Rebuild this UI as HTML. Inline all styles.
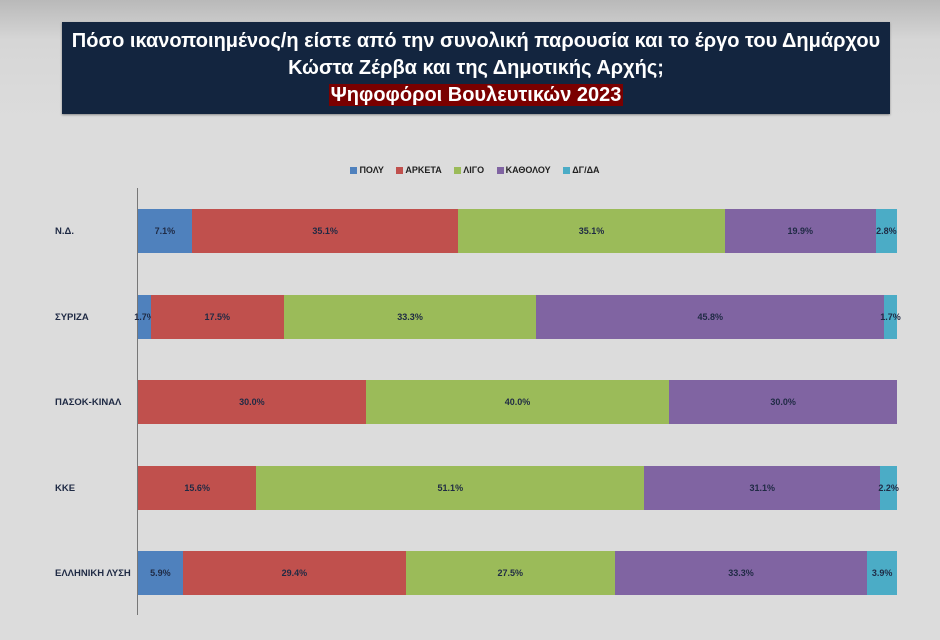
<!DOCTYPE html>
<html><head><meta charset="utf-8"><style>
body{margin:0;width:940px;height:640px;overflow:hidden;background:linear-gradient(#b9b9b9 0px,#d6d6d6 40px,#dcdcdc 120px,#dcdcdc 100%);font-family:"Liberation Sans","DejaVu Sans",sans-serif;position:relative}
.title{position:absolute;left:62px;top:22px;width:828px;height:92px;background:#13253f;color:#fff;text-align:center;font-weight:bold;font-size:20px;line-height:27px;padding-top:6px;box-sizing:border-box;box-shadow:0 1px 2px #888}
.title span{background:#7a0000;padding:0 2px}
.legend{position:absolute;top:165px;left:0;width:940px;text-align:center;font-size:9px;font-weight:bold;color:#222}
.legend i{display:inline-block;width:7px;height:7px;margin:0 2px 0 10px;vertical-align:-1px}
.axis{position:absolute;left:137px;top:188px;width:1px;height:427px;background:#777}
.row{position:absolute;left:138px;width:759px;height:44px;display:flex}
.row div{height:100%;display:flex;align-items:center;justify-content:center;font-size:9px;font-weight:bold;color:#1f2a44;white-space:nowrap;overflow:visible}
.lab{position:absolute;left:55px;font-size:9.5px;font-weight:bold;color:#1f2a44}
.a{background:#4f81bd}.b{background:#c0504d}.c{background:#9bbb59}.d{background:#8064a2}.e{background:#4bacc6}
</style></head><body>
<div class="title">Πόσο ικανοποιημένος/η είστε από την συνολική παρουσία και το έργο του Δημάρχου<br>Κώστα Ζέρβα και της Δημοτικής Αρχής;<br><span>Ψηφοφόροι Βουλευτικών 2023</span></div>
<div class="legend"><i class="a"></i>ΠΟΛΥ <i class="b"></i>ΑΡΚΕΤΑ <i class="c"></i>ΛΙΓΟ <i class="d"></i>ΚΑΘΟΛΟΥ <i class="e"></i>ΔΓ/ΔΑ</div>
<div class="axis"></div>
<div class="lab" style="top:226px">Ν.Δ.</div>
<div class="row" style="top:209px"><div class="a" style="width:7.1%">7.1%</div><div class="b" style="width:35.1%">35.1%</div><div class="c" style="width:35.1%">35.1%</div><div class="d" style="width:19.9%">19.9%</div><div class="e" style="width:2.8%">2.8%</div></div>
<div class="lab" style="top:312px">ΣΥΡΙΖΑ</div>
<div class="row" style="top:295px"><div class="a" style="width:1.7%">1.7%</div><div class="b" style="width:17.5%">17.5%</div><div class="c" style="width:33.3%">33.3%</div><div class="d" style="width:45.8%">45.8%</div><div class="e" style="width:1.7%">1.7%</div></div>
<div class="lab" style="top:397px">ΠΑΣΟΚ-ΚΙΝΑΛ</div>
<div class="row" style="top:380px"><div class="b" style="width:30%">30.0%</div><div class="c" style="width:40%">40.0%</div><div class="d" style="width:30%">30.0%</div></div>
<div class="lab" style="top:483px">ΚΚΕ</div>
<div class="row" style="top:466px"><div class="b" style="width:15.6%">15.6%</div><div class="c" style="width:51.1%">51.1%</div><div class="d" style="width:31.1%">31.1%</div><div class="e" style="width:2.2%">2.2%</div></div>
<div class="lab" style="top:568px">ΕΛΛΗΝΙΚΗ ΛΥΣΗ</div>
<div class="row" style="top:551px"><div class="a" style="width:5.9%">5.9%</div><div class="b" style="width:29.4%">29.4%</div><div class="c" style="width:27.5%">27.5%</div><div class="d" style="width:33.3%">33.3%</div><div class="e" style="width:3.9%">3.9%</div></div>
</body></html>
